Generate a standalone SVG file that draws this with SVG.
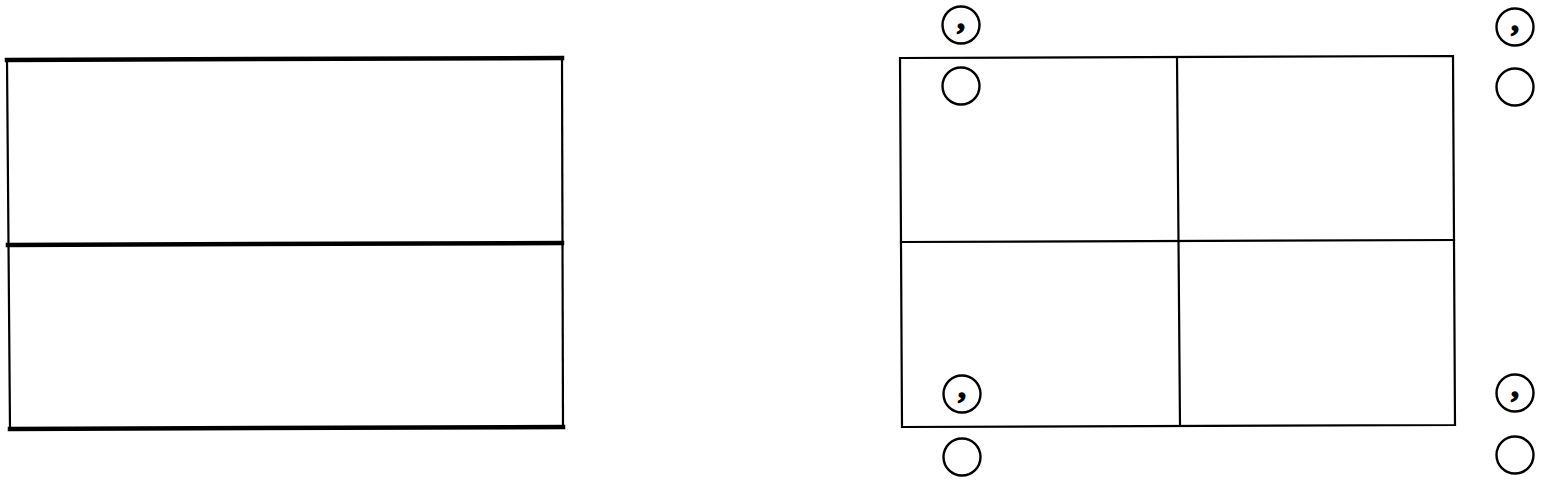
<svg xmlns="http://www.w3.org/2000/svg" width="1543" height="483" viewBox="0 0 1543 483">
<style>
.thick{fill:none;stroke:#000;stroke-width:4.5;stroke-linecap:square}
.thin{fill:none;stroke:#000;stroke-width:2.2;stroke-linecap:square}
.c{fill:none;stroke:#000;stroke-width:2.4}
.cm{font-family:"Liberation Serif",serif;font-weight:bold;font-size:32px;text-anchor:middle;fill:#000;stroke:#000;stroke-width:1.3;stroke-linejoin:round}
</style>
<rect width="1543" height="483" fill="#fff"/>
<g id="left-panel">
<line class="thin" x1="7" y1="60" x2="10" y2="429"/>
<line class="thin" x1="562" y1="58" x2="563" y2="427"/>
<line class="thick" x1="7" y1="60" x2="562" y2="58"/>
<line class="thick" x1="8" y1="245" x2="562" y2="243"/>
<line class="thick" x1="10" y1="429" x2="563" y2="427"/>
</g>
<g id="right-grid">
<polygon class="thin" points="900,58 1453,56 1455,425 902,427"/>
<line class="thin" x1="1177" y1="57" x2="1180" y2="426"/>
<line class="thin" x1="901" y1="242" x2="1454" y2="240"/>
</g>
<g id="marker-top-left">
<circle class="c" cx="961" cy="25" r="18.5"/>
<text class="cm" x="961" y="29">,</text>
<circle class="c" cx="961" cy="86" r="18.5"/>
</g>
<g id="marker-top-right">
<circle class="c" cx="1515" cy="27" r="18.5"/>
<text class="cm" x="1515" y="31">,</text>
<circle class="c" cx="1515" cy="87" r="18.5"/>
</g>
<g id="marker-bottom-left">
<circle class="c" cx="962" cy="394" r="18.5"/>
<text class="cm" x="962" y="398">,</text>
<circle class="c" cx="962" cy="457" r="18.5"/>
</g>
<g id="marker-bottom-right">
<circle class="c" cx="1515" cy="393" r="18.5"/>
<text class="cm" x="1515" y="397">,</text>
<circle class="c" cx="1515" cy="455" r="18.5"/>
</g>
</svg>
